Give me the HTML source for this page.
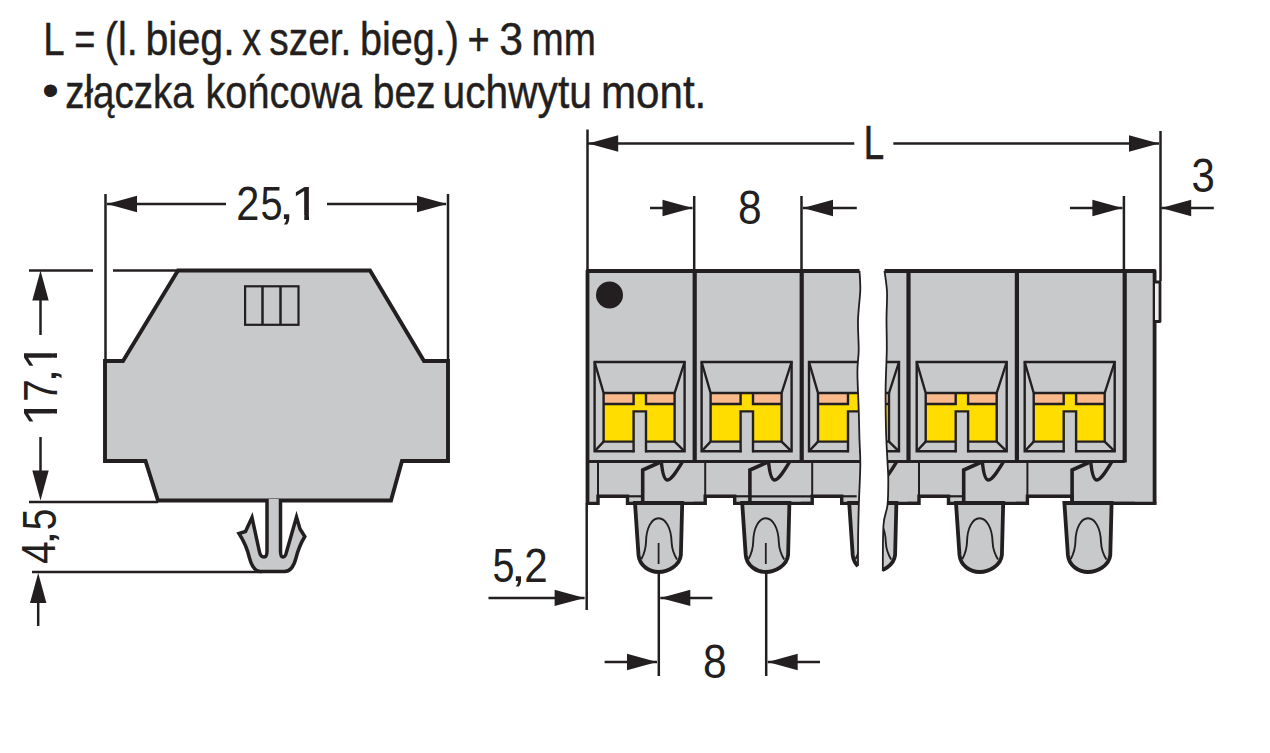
<!DOCTYPE html>
<html><head><meta charset="utf-8"><style>
html,body{margin:0;padding:0;background:#fff;}
svg{display:block;}
text{font-family:"Liberation Sans", sans-serif; fill:#231f20;}
</style></head><body>
<svg width="1270" height="753" viewBox="0 0 1270 753">
<rect width="1270" height="753" fill="#fff"/>
<text transform="translate(43.14 54.77) scale(0.8270 1)" font-size="46.60" stroke="#231f20" stroke-width="0.45">L</text>
<text transform="translate(74.32 54.77) scale(0.7765 1)" font-size="46.60" stroke="#231f20" stroke-width="0.45">=</text>
<text transform="translate(104.76 54.77) scale(0.8473 1)" font-size="46.60" stroke="#231f20" stroke-width="0.45">(l.</text>
<text transform="translate(145.45 54.77) scale(0.8834 1)" font-size="46.60" stroke="#231f20" stroke-width="0.45">bieg.</text>
<text transform="translate(242.26 54.77) scale(0.8059 1)" font-size="46.60" stroke="#231f20" stroke-width="0.45">x</text>
<text transform="translate(269.26 54.77) scale(0.8352 1)" font-size="46.60" stroke="#231f20" stroke-width="0.45">szer.</text>
<text transform="translate(359.95 54.77) scale(0.8489 1)" font-size="46.60" stroke="#231f20" stroke-width="0.45">bieg.)</text>
<text transform="translate(467.62 54.77) scale(0.8163 1)" font-size="46.60" stroke="#231f20" stroke-width="0.45">+</text>
<text transform="translate(499.32 54.77) scale(0.9154 1)" font-size="46.60" stroke="#231f20" stroke-width="0.45">3</text>
<text transform="translate(531.61 54.77) scale(0.8297 1)" font-size="46.60" stroke="#231f20" stroke-width="0.45">mm</text>
<text transform="translate(41.96 106.20) scale(1.0397 1)" font-size="46.67">&#8226;</text>
<text transform="translate(65.18 107.78) scale(0.8274 1)" font-size="46.60" stroke="#231f20" stroke-width="0.45">złączka</text>
<text transform="translate(205.55 107.78) scale(0.8509 1)" font-size="46.60" stroke="#231f20" stroke-width="0.45">końcowa</text>
<text transform="translate(372.69 107.78) scale(0.8376 1)" font-size="46.60" stroke="#231f20" stroke-width="0.45">bez</text>
<text transform="translate(442.58 107.78) scale(0.8732 1)" font-size="46.60" stroke="#231f20" stroke-width="0.45">uchwytu</text>
<text transform="translate(600.99 107.78) scale(0.9037 1)" font-size="46.60" stroke="#231f20" stroke-width="0.45">mont.</text>
<path d="M178,270.5 L370,270.5 L424,361 L448,361 L448,461 L402,461 L391,500.5 L158,500.5 L145.5,461 L105,461 L105,361 L123,361 Z" fill="#c8c9cb" stroke="#231f20" stroke-width="3.9" stroke-linejoin="miter"/>
<rect x="245.1" y="286.3" width="53.4" height="38.5" fill="none" stroke="#231f20" stroke-width="2.2"/>
<line x1="262.5" y1="286.3" x2="262.5" y2="324.8" stroke="#231f20" stroke-width="2.50"/>
<line x1="280.5" y1="286.3" x2="280.5" y2="324.8" stroke="#231f20" stroke-width="2.50"/>
<path d="M267,499 L267,551 Q267,557 264,557 Q260.5,557 259.5,552 L252,517.5 L245.5,531.5 L239,533.5 Q246.5,545 249.5,558 Q253,571.5 261,571.5 L284.5,571.5 Q292.5,571.5 296,558 Q299,546 304.8,536.5 L300,529 L296.5,517 L286.5,552 Q285.5,557 283,557 Q280.5,557 280.5,551 L280.5,499" fill="#c8c9cb" stroke="#231f20" stroke-width="3.5" stroke-linejoin="miter" stroke-miterlimit="6"/>
<line x1="105.5" y1="194.0" x2="105.5" y2="361.0" stroke="#231f20" stroke-width="2.50"/>
<line x1="448.0" y1="194.0" x2="448.0" y2="361.0" stroke="#231f20" stroke-width="2.50"/>
<line x1="107.0" y1="204.0" x2="226.0" y2="204.0" stroke="#231f20" stroke-width="2.50"/>
<line x1="327.0" y1="204.0" x2="446.0" y2="204.0" stroke="#231f20" stroke-width="2.50"/>
<polygon fill="#231f20" points="107.0,204.0 137.0,195.8 137.0,212.2"/>
<polygon fill="#231f20" points="447.0,204.0 417.0,195.8 417.0,212.2"/>
<text transform="translate(236.32 219.80) scale(0.8628 1)" font-size="48.14">2</text>
<text transform="translate(260.41 219.92) scale(0.8339 1)" font-size="47.71">5</text>
<text transform="translate(278.80 219.01) scale(1.2705 1)" font-size="43.91">,</text>
<clipPath id="c1_1" clipPathUnits="userSpaceOnUse"><rect x="-9.53" y="-57.21" width="66.74" height="52.45"/><rect x="11.99" y="-57.21" width="4.22" height="66.74"/></clipPath>
<text transform="translate(290.87 219.80) scale(1.1185 1)" font-size="47.67" clip-path="url(#c1_1)">1</text>
<line x1="29.0" y1="270.5" x2="93.0" y2="270.5" stroke="#231f20" stroke-width="2.50"/>
<line x1="113.0" y1="270.5" x2="178.0" y2="270.5" stroke="#231f20" stroke-width="2.50"/>
<line x1="40.5" y1="300.0" x2="40.5" y2="335.0" stroke="#231f20" stroke-width="2.50"/>
<polygon fill="#231f20" points="40.5,270.5 32.3,300.5 48.7,300.5"/>
<line x1="40.5" y1="437.0" x2="40.5" y2="471.0" stroke="#231f20" stroke-width="2.50"/>
<polygon fill="#231f20" points="40.5,500.5 32.3,470.5 48.7,470.5"/>
<line x1="29.0" y1="502.0" x2="158.0" y2="502.0" stroke="#231f20" stroke-width="2.50"/>
<clipPath id="c1_2" clipPathUnits="userSpaceOnUse"><rect x="-9.53" y="-57.21" width="66.74" height="52.45"/><rect x="11.99" y="-57.21" width="4.22" height="66.74"/></clipPath>
<text transform="rotate(-90) translate(-426.47 56.80) scale(1.0841 1)" font-size="47.67" clip-path="url(#c1_2)">1</text>
<text transform="rotate(-90) translate(-401.72 56.80) scale(0.8507 1)" font-size="47.54">7</text>
<text transform="rotate(-90) translate(-383.00 56.12) scale(1.2228 1)" font-size="43.04">,</text>
<clipPath id="c1_3" clipPathUnits="userSpaceOnUse"><rect x="-9.53" y="-57.21" width="66.74" height="52.45"/><rect x="11.99" y="-57.21" width="4.22" height="66.74"/></clipPath>
<text transform="rotate(-90) translate(-370.87 56.80) scale(1.0841 1)" font-size="47.67" clip-path="url(#c1_3)">1</text>
<text transform="rotate(-90) translate(-563.91 54.90) scale(0.8515 1)" font-size="47.68">4</text>
<text transform="rotate(-90) translate(-545.20 54.04) scale(1.3252 1)" font-size="41.30">,</text>
<text transform="rotate(-90) translate(-530.26 55.71) scale(0.7972 1)" font-size="48.86">5</text>
<line x1="32.0" y1="572.0" x2="262.0" y2="572.0" stroke="#231f20" stroke-width="2.50"/>
<polygon fill="#231f20" points="38.2,573.0 30.0,603.0 46.4,603.0"/>
<line x1="38.2" y1="600.0" x2="38.2" y2="626.0" stroke="#231f20" stroke-width="2.50"/>
<g id="rv">
<rect x="587.5" y="271" width="568" height="232" fill="#c8c9cb"/>
<rect x="603.6" y="393.0" width="71.0" height="48.6" fill="#ffdd00"/>
<rect x="603.6" y="393.0" width="30.0" height="11.0" fill="#f9b98b"/>
<rect x="646.0" y="393.0" width="28.6" height="11.0" fill="#f9b98b"/>
<rect x="633.6" y="411.4" width="12.4" height="40.9" fill="#c8c9cb"/>
<path d="M634.6,451.3 L594.6,451.3 L594.6,362.0 L684.6,362.0 L684.6,451.3 L645.0,451.3 L645.0,451.3" fill="none" stroke="#231f20" stroke-width="2.4"/>
<path d="M633.6,441.6 L603.6,441.6 L603.6,393.0 M603.6,393.0 L674.6,393.0 L674.6,441.6 L646.0,441.6" fill="none" stroke="#231f20" stroke-width="2.4"/>
<path d="M594.6,362.0 L603.6,393.0 M684.6,362.0 L674.6,393.0 M603.6,441.6 L594.6,451.3 M674.6,441.6 L684.6,451.3" stroke="#231f20" stroke-width="2.4"/>
<path d="M603.6,404 L633.6,404 L633.6,393.0 M646.0,393.0 L646.0,404 L674.6,404" fill="none" stroke="#231f20" stroke-width="2.4"/>
<path d="M633.6,452.3 L633.6,411.4 L646.0,411.4 L646.0,452.3" fill="none" stroke="#231f20" stroke-width="2.4"/>
<line x1="598.0" y1="461" x2="598.0" y2="496" stroke="#231f20" stroke-width="2"/>
<rect x="599.5" y="497.8" width="26.5" height="8" fill="#fff"/>
<line x1="627.5" y1="496.3" x2="642.5" y2="496.3" stroke="#231f20" stroke-width="2.2"/>
<path d="M586.5,503.4 L598.0,503.4 L598.0,496.3 L627.5,496.3 L627.5,503.4 L705.5,503.4" fill="none" stroke="#231f20" stroke-width="3.4"/>
<path d="M642.7,503 L642.7,470 L659.5,462.5" fill="none" stroke="#231f20" stroke-width="3.6"/>
<path d="M661.3,461.5 C662.3,472 664.0,480 667.5,480 C671.5,480 677.5,470 682.7,461.5" fill="none" stroke="#231f20" stroke-width="3.4"/>
<path d="M635.0,503 L638.5,555 C639.5,566 649.6,572 658.6,572 C667.6,572 679.7,566 680.9,555 L682.2,503 Z" fill="#c8c9cb" stroke="#231f20" stroke-width="3.8"/>
<path d="M641.4,559 C644.6,553 645.8,549 646.0,542 C646.2,528 651.6,518.2 658.6,518.2 C665.6,518.2 671.2,528 671.6,542 C671.9,549 673.6,554 677.0,559.4" fill="none" stroke="#231f20" stroke-width="1.9"/>
<line x1="658.6" y1="543" x2="658.6" y2="564" stroke="#231f20" stroke-width="1.8"/>
<rect x="710.6" y="393.0" width="71.0" height="48.6" fill="#ffdd00"/>
<rect x="710.6" y="393.0" width="30.0" height="11.0" fill="#f9b98b"/>
<rect x="753.0" y="393.0" width="28.6" height="11.0" fill="#f9b98b"/>
<rect x="740.6" y="411.4" width="12.4" height="40.9" fill="#c8c9cb"/>
<path d="M741.6,451.3 L701.6,451.3 L701.6,362.0 L791.6,362.0 L791.6,451.3 L752.0,451.3 L752.0,451.3" fill="none" stroke="#231f20" stroke-width="2.4"/>
<path d="M740.6,441.6 L710.6,441.6 L710.6,393.0 M710.6,393.0 L781.6,393.0 L781.6,441.6 L753.0,441.6" fill="none" stroke="#231f20" stroke-width="2.4"/>
<path d="M701.6,362.0 L710.6,393.0 M791.6,362.0 L781.6,393.0 M710.6,441.6 L701.6,451.3 M781.6,441.6 L791.6,451.3" stroke="#231f20" stroke-width="2.4"/>
<path d="M710.6,404 L740.6,404 L740.6,393.0 M753.0,393.0 L753.0,404 L781.6,404" fill="none" stroke="#231f20" stroke-width="2.4"/>
<path d="M740.6,452.3 L740.6,411.4 L753.0,411.4 L753.0,452.3" fill="none" stroke="#231f20" stroke-width="2.4"/>
<line x1="705.2" y1="461" x2="705.2" y2="496" stroke="#231f20" stroke-width="2"/>
<rect x="706.7" y="497.8" width="26.5" height="8" fill="#fff"/>
<line x1="734.7" y1="496.3" x2="749.7" y2="496.3" stroke="#231f20" stroke-width="2.2"/>
<line x1="749.7" y1="496.3" x2="812.2" y2="496.3" stroke="#231f20" stroke-width="2.2"/>
<path d="M693.7,503.4 L705.2,503.4 L705.2,496.3 L734.7,496.3 L734.7,503.4 L812.7,503.4" fill="none" stroke="#231f20" stroke-width="3.4"/>
<path d="M749.9,503 L749.9,470 L766.7,462.5" fill="none" stroke="#231f20" stroke-width="3.6"/>
<path d="M768.5,461.5 C769.5,472 771.2,480 774.7,480 C778.7,480 784.7,470 789.9,461.5" fill="none" stroke="#231f20" stroke-width="3.4"/>
<path d="M742.2,503 L745.7,555 C746.7,566 756.8,572 765.8,572 C774.8,572 786.9,566 788.1,555 L789.4,503 Z" fill="#c8c9cb" stroke="#231f20" stroke-width="3.8"/>
<path d="M748.6,559 C751.8,553 753.0,549 753.2,542 C753.4,528 758.8,518.2 765.8,518.2 C772.8,518.2 778.4,528 778.8,542 C779.1,549 780.8,554 784.2,559.4" fill="none" stroke="#231f20" stroke-width="1.9"/>
<line x1="765.8" y1="543" x2="765.8" y2="564" stroke="#231f20" stroke-width="1.8"/>
<rect x="818.0" y="393.0" width="71.0" height="48.6" fill="#ffdd00"/>
<rect x="818.0" y="393.0" width="30.0" height="11.0" fill="#f9b98b"/>
<rect x="860.4" y="393.0" width="28.6" height="11.0" fill="#f9b98b"/>
<rect x="848.0" y="411.4" width="12.4" height="40.9" fill="#c8c9cb"/>
<path d="M849.0,451.3 L809.0,451.3 L809.0,362.0 L899.0,362.0 L899.0,451.3 L859.4,451.3 L859.4,451.3" fill="none" stroke="#231f20" stroke-width="2.4"/>
<path d="M848.0,441.6 L818.0,441.6 L818.0,393.0 M818.0,393.0 L889.0,393.0 L889.0,441.6 L860.4,441.6" fill="none" stroke="#231f20" stroke-width="2.4"/>
<path d="M809.0,362.0 L818.0,393.0 M899.0,362.0 L889.0,393.0 M818.0,441.6 L809.0,451.3 M889.0,441.6 L899.0,451.3" stroke="#231f20" stroke-width="2.4"/>
<path d="M818.0,404 L848.0,404 L848.0,393.0 M860.4,393.0 L860.4,404 L889.0,404" fill="none" stroke="#231f20" stroke-width="2.4"/>
<path d="M848.0,452.3 L848.0,411.4 L860.4,411.4 L860.4,452.3" fill="none" stroke="#231f20" stroke-width="2.4"/>
<line x1="812.2" y1="461" x2="812.2" y2="496" stroke="#231f20" stroke-width="2"/>
<rect x="813.7" y="497.8" width="26.5" height="8" fill="#fff"/>
<line x1="841.7" y1="496.3" x2="856.7" y2="496.3" stroke="#231f20" stroke-width="2.2"/>
<path d="M800.7,503.4 L812.2,503.4 L812.2,496.3 L841.7,496.3 L841.7,503.4 L919.7,503.4" fill="none" stroke="#231f20" stroke-width="3.4"/>
<path d="M875.5,461.5 C876.5,472 878.2,480 881.7,480 C885.7,480 891.7,470 896.9,461.5" fill="none" stroke="#231f20" stroke-width="3.4"/>
<path d="M849.2,503 L852.7,555 C853.7,566 863.8,572 872.8,572 C881.8,572 893.9,566 895.1,555 L896.4,503 Z" fill="#c8c9cb" stroke="#231f20" stroke-width="3.8"/>
<path d="M855.6,559 C858.8,553 860.0,549 860.2,542 C860.4,528 865.8,518.2 872.8,518.2 C879.8,518.2 885.4,528 885.8,542 C886.1,549 887.8,554 891.2,559.4" fill="none" stroke="#231f20" stroke-width="1.9"/>
<rect x="925.7" y="393.0" width="71.0" height="48.6" fill="#ffdd00"/>
<rect x="925.7" y="393.0" width="30.0" height="11.0" fill="#f9b98b"/>
<rect x="968.1" y="393.0" width="28.6" height="11.0" fill="#f9b98b"/>
<rect x="955.7" y="411.4" width="12.4" height="40.9" fill="#c8c9cb"/>
<path d="M956.7,451.3 L916.7,451.3 L916.7,362.0 L1006.7,362.0 L1006.7,451.3 L967.1,451.3 L967.1,451.3" fill="none" stroke="#231f20" stroke-width="2.4"/>
<path d="M955.7,441.6 L925.7,441.6 L925.7,393.0 M925.7,393.0 L996.7,393.0 L996.7,441.6 L968.1,441.6" fill="none" stroke="#231f20" stroke-width="2.4"/>
<path d="M916.7,362.0 L925.7,393.0 M1006.7,362.0 L996.7,393.0 M925.7,441.6 L916.7,451.3 M996.7,441.6 L1006.7,451.3" stroke="#231f20" stroke-width="2.4"/>
<path d="M925.7,404 L955.7,404 L955.7,393.0 M968.1,393.0 L968.1,404 L996.7,404" fill="none" stroke="#231f20" stroke-width="2.4"/>
<path d="M955.7,452.3 L955.7,411.4 L968.1,411.4 L968.1,452.3" fill="none" stroke="#231f20" stroke-width="2.4"/>
<line x1="919.0" y1="461" x2="919.0" y2="496" stroke="#231f20" stroke-width="2"/>
<rect x="920.5" y="497.8" width="26.5" height="8" fill="#fff"/>
<line x1="948.5" y1="496.3" x2="963.5" y2="496.3" stroke="#231f20" stroke-width="2.2"/>
<path d="M907.5,503.4 L919.0,503.4 L919.0,496.3 L948.5,496.3 L948.5,503.4 L1026.5,503.4" fill="none" stroke="#231f20" stroke-width="3.4"/>
<path d="M963.7,503 L963.7,470 L980.5,462.5" fill="none" stroke="#231f20" stroke-width="3.6"/>
<path d="M982.3,461.5 C983.3,472 985.0,480 988.5,480 C992.5,480 998.5,470 1003.7,461.5" fill="none" stroke="#231f20" stroke-width="3.4"/>
<path d="M956.0,503 L959.5,555 C960.5,566 970.6,572 979.6,572 C988.6,572 1000.7,566 1001.9,555 L1003.2,503 Z" fill="#c8c9cb" stroke="#231f20" stroke-width="3.8"/>
<path d="M962.4,559 C965.6,553 966.8,549 967.0,542 C967.2,528 972.6,518.2 979.6,518.2 C986.6,518.2 992.2,528 992.6,542 C992.9,549 994.6,554 998.0,559.4" fill="none" stroke="#231f20" stroke-width="1.9"/>
<rect x="1033.7" y="393.0" width="71.0" height="48.6" fill="#ffdd00"/>
<rect x="1033.7" y="393.0" width="30.0" height="11.0" fill="#f9b98b"/>
<rect x="1076.1" y="393.0" width="28.6" height="11.0" fill="#f9b98b"/>
<rect x="1063.7" y="411.4" width="12.4" height="40.9" fill="#c8c9cb"/>
<path d="M1064.7,451.3 L1024.7,451.3 L1024.7,362.0 L1114.7,362.0 L1114.7,451.3 L1075.1,451.3 L1075.1,451.3" fill="none" stroke="#231f20" stroke-width="2.4"/>
<path d="M1063.7,441.6 L1033.7,441.6 L1033.7,393.0 M1033.7,393.0 L1104.7,393.0 L1104.7,441.6 L1076.1,441.6" fill="none" stroke="#231f20" stroke-width="2.4"/>
<path d="M1024.7,362.0 L1033.7,393.0 M1114.7,362.0 L1104.7,393.0 M1033.7,441.6 L1024.7,451.3 M1104.7,441.6 L1114.7,451.3" stroke="#231f20" stroke-width="2.4"/>
<path d="M1033.7,404 L1063.7,404 L1063.7,393.0 M1076.1,393.0 L1076.1,404 L1104.7,404" fill="none" stroke="#231f20" stroke-width="2.4"/>
<path d="M1063.7,452.3 L1063.7,411.4 L1076.1,411.4 L1076.1,452.3" fill="none" stroke="#231f20" stroke-width="2.4"/>
<line x1="1027.4" y1="461" x2="1027.4" y2="496" stroke="#231f20" stroke-width="2"/>
<rect x="1028.9" y="497.8" width="41.7" height="8" fill="#fff"/>
<path d="M1015.9,503.4 L1027.4,503.4 L1027.4,496.3 L1072.1,496.3 L1072.1,503.4 L1134.9,503.4" fill="none" stroke="#231f20" stroke-width="3.4"/>
<path d="M1072.1,503 L1072.1,470 L1088.9,462.5" fill="none" stroke="#231f20" stroke-width="3.6"/>
<path d="M1090.7,461.5 C1091.7,472 1093.4,480 1096.9,480 C1100.9,480 1106.9,470 1112.1,461.5" fill="none" stroke="#231f20" stroke-width="3.4"/>
<path d="M1064.4,503 L1067.9,555 C1068.9,566 1079.0,572 1088.0,572 C1097.0,572 1109.1,566 1110.3,555 L1111.6,503 Z" fill="#c8c9cb" stroke="#231f20" stroke-width="3.8"/>
<path d="M1070.8,559 C1074.0,553 1075.2,549 1075.4,542 C1075.6,528 1081.0,518.2 1088.0,518.2 C1095.0,518.2 1100.6,528 1101.0,542 C1101.3,549 1103.0,554 1106.4,559.4" fill="none" stroke="#231f20" stroke-width="1.9"/>
<path d="M587.5,503.5 L587.5,271 L1154.6,271 L1154.6,503.5" fill="none" stroke="#231f20" stroke-width="3.8" stroke-linejoin="round"/>
<line x1="694.7" y1="271.0" x2="694.7" y2="462.5" stroke="#231f20" stroke-width="4.20"/>
<line x1="801.7" y1="271.0" x2="801.7" y2="462.5" stroke="#231f20" stroke-width="4.20"/>
<line x1="908.5" y1="271.0" x2="908.5" y2="462.5" stroke="#231f20" stroke-width="4.20"/>
<line x1="1016.9" y1="271.0" x2="1016.9" y2="462.5" stroke="#231f20" stroke-width="4.20"/>
<line x1="1124.7" y1="271.0" x2="1124.7" y2="462.5" stroke="#231f20" stroke-width="4.20"/>
<line x1="587.5" y1="461.5" x2="1124.7" y2="461.5" stroke="#231f20" stroke-width="3.00"/>
<line x1="1070.0" y1="503.4" x2="1156.5" y2="503.4" stroke="#231f20" stroke-width="3.40"/>
<path d="M1155,282 L1160,282 L1160,321.5 L1155,321.5" fill="#eeeeee" stroke="#231f20" stroke-width="2.8" stroke-linejoin="round"/>
<circle cx="609.5" cy="295" r="13.5" fill="#231f20"/>
</g>
<path d="M859.5,255 L859.5,271.0 C859.6,274.2 860.5,281.8 860.3,290.0 C860.0,298.2 858.3,310.0 858.0,320.0 C857.7,330.0 858.8,341.3 858.7,350.0 C858.6,358.7 857.4,362.0 857.4,372.0 C857.4,382.0 858.4,398.7 858.7,410.0 C859.1,421.3 859.2,430.8 859.5,440.0 C859.8,449.2 860.4,455.0 860.3,465.0 C860.2,475.0 859.4,489.2 859.0,500.0 C858.6,510.8 858.4,519.0 858.2,530.0 C858.0,541.0 858.0,560.0 858.0,566.0 L840,590 L882.8,590 L882.8,571.0 C882.9,563.3 882.7,536.0 883.5,525.0 C884.3,514.0 886.7,512.5 887.5,505.0 C888.3,497.5 888.3,487.2 888.3,480.0 C888.3,472.8 887.9,470.3 887.5,462.0 C887.1,453.7 886.3,442.0 886.0,430.0 C885.7,418.0 885.5,403.3 885.6,390.0 C885.7,376.7 886.6,361.7 886.8,350.0 C886.9,338.3 886.5,329.7 886.5,320.0 C886.5,310.3 887.3,300.2 887.0,292.0 C886.7,283.8 884.9,274.5 884.5,271.0 L884.5,255 Z" fill="#fff"/>
<path d="M859.5,271.0 C859.6,274.2 860.5,281.8 860.3,290.0 C860.0,298.2 858.3,310.0 858.0,320.0 C857.7,330.0 858.8,341.3 858.7,350.0 C858.6,358.7 857.4,362.0 857.4,372.0 C857.4,382.0 858.4,398.7 858.7,410.0 C859.1,421.3 859.2,430.8 859.5,440.0 C859.8,449.2 860.4,455.0 860.3,465.0 C860.2,475.0 859.4,489.2 859.0,500.0 C858.6,510.8 858.4,519.0 858.2,530.0 C858.0,541.0 858.0,560.0 858.0,566.0" fill="none" stroke="#231f20" stroke-width="1.8"/>
<path d="M884.5,271.0 C884.9,274.5 886.7,283.8 887.0,292.0 C887.3,300.2 886.5,310.3 886.5,320.0 C886.5,329.7 886.9,338.3 886.8,350.0 C886.6,361.7 885.7,376.7 885.6,390.0 C885.5,403.3 885.7,418.0 886.0,430.0 C886.3,442.0 887.1,453.7 887.5,462.0 C887.9,470.3 888.3,472.8 888.3,480.0 C888.3,487.2 888.3,497.5 887.5,505.0 C886.7,512.5 884.3,514.0 883.5,525.0 C882.7,536.0 882.9,563.3 882.8,571.0" fill="none" stroke="#231f20" stroke-width="1.8"/>
<line x1="587.5" y1="129.5" x2="587.5" y2="271.0" stroke="#231f20" stroke-width="2.50"/>
<line x1="1160.5" y1="131.0" x2="1160.5" y2="281.0" stroke="#231f20" stroke-width="2.50"/>
<line x1="588.0" y1="143.5" x2="854.3" y2="143.5" stroke="#231f20" stroke-width="2.50"/>
<line x1="893.3" y1="143.5" x2="1159.0" y2="143.5" stroke="#231f20" stroke-width="2.50"/>
<polygon fill="#231f20" points="588.2,143.5 618.2,135.3 618.2,151.7"/>
<polygon fill="#231f20" points="1159.0,143.5 1129.0,135.3 1129.0,151.7"/>
<text transform="translate(863.82 159.45) scale(0.7636 1)" font-size="47.97" stroke="#231f20" stroke-width="0.70">L</text>
<line x1="694.2" y1="196.0" x2="694.2" y2="271.0" stroke="#231f20" stroke-width="2.50"/>
<line x1="801.5" y1="196.0" x2="801.5" y2="271.0" stroke="#231f20" stroke-width="2.50"/>
<line x1="650.0" y1="208.0" x2="692.5" y2="208.0" stroke="#231f20" stroke-width="2.50"/>
<polygon fill="#231f20" points="692.5,208.0 662.5,199.8 662.5,216.2"/>
<line x1="803.0" y1="208.0" x2="856.8" y2="208.0" stroke="#231f20" stroke-width="2.50"/>
<polygon fill="#231f20" points="803.0,208.0 833.0,199.8 833.0,216.2"/>
<text transform="translate(737.99 224.31) scale(0.8707 1)" font-size="48.87">8</text>
<line x1="1123.9" y1="196.0" x2="1123.9" y2="271.0" stroke="#231f20" stroke-width="2.50"/>
<line x1="1070.0" y1="208.0" x2="1122.4" y2="208.0" stroke="#231f20" stroke-width="2.50"/>
<polygon fill="#231f20" points="1122.4,208.0 1092.4,199.8 1092.4,216.2"/>
<line x1="1161.2" y1="208.0" x2="1213.8" y2="208.0" stroke="#231f20" stroke-width="2.50"/>
<polygon fill="#231f20" points="1161.2,208.0 1191.2,199.8 1191.2,216.2"/>
<text transform="translate(1191.42 192.21) scale(0.8576 1)" font-size="48.87">3</text>
<line x1="586.7" y1="503.0" x2="586.7" y2="610.0" stroke="#231f20" stroke-width="2.50"/>
<line x1="488.5" y1="597.9" x2="584.6" y2="597.9" stroke="#231f20" stroke-width="2.50"/>
<polygon fill="#231f20" points="584.6,597.9 554.6,589.7 554.6,606.1"/>
<text transform="translate(492.62 582.22) scale(0.8270 1)" font-size="47.86">5</text>
<text transform="translate(510.80 580.81) scale(1.2465 1)" font-size="43.91">,</text>
<text transform="translate(524.29 581.70) scale(0.8817 1)" font-size="47.86">2</text>
<line x1="658.8" y1="573.0" x2="658.8" y2="676.0" stroke="#231f20" stroke-width="2.50"/>
<line x1="766.2" y1="573.0" x2="766.2" y2="676.0" stroke="#231f20" stroke-width="2.50"/>
<line x1="660.3" y1="597.9" x2="712.4" y2="597.9" stroke="#231f20" stroke-width="2.50"/>
<polygon fill="#231f20" points="660.3,597.9 690.3,589.7 690.3,606.1"/>
<line x1="604.6" y1="662.0" x2="657.0" y2="662.0" stroke="#231f20" stroke-width="2.50"/>
<polygon fill="#231f20" points="657.0,662.0 627.0,653.8 627.0,670.2"/>
<line x1="767.7" y1="662.0" x2="820.0" y2="662.0" stroke="#231f20" stroke-width="2.50"/>
<polygon fill="#231f20" points="767.7,662.0 797.7,653.8 797.7,670.2"/>
<text transform="translate(702.99 678.21) scale(0.8707 1)" font-size="48.87">8</text>
</svg>
</body></html>
